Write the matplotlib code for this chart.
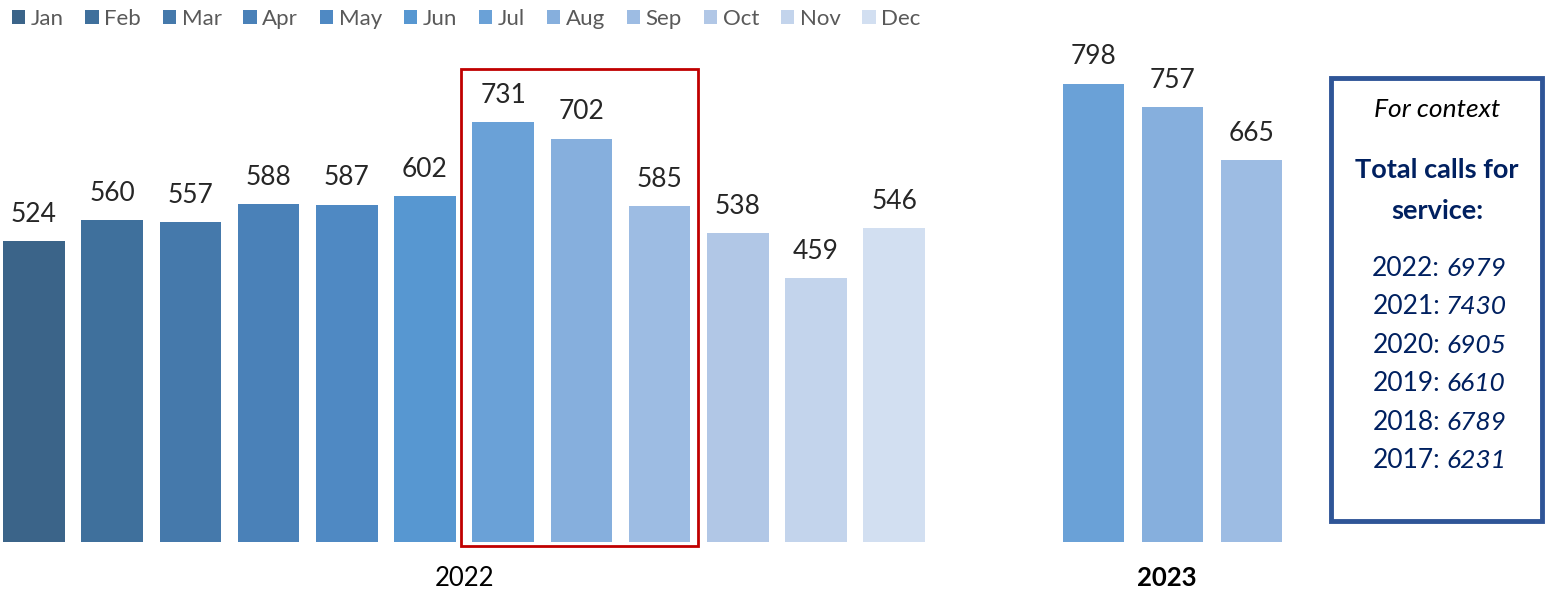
import matplotlib.pyplot as plt
from matplotlib.patches import Rectangle

plt.rcParams["font.family"] = ["Lato", "DejaVu Sans"]

months = ["Jan", "Feb", "Mar", "Apr", "May", "Jun",
          "Jul", "Aug", "Sep", "Oct", "Nov", "Dec"]
calls_2022 = [524, 560, 557, 588, 587, 602, 731, 702, 585, 538, 459, 546]
months_2023 = ["Jul", "Aug", "Sep"]
calls_2023 = [798, 757, 665]
totals_years = ["2022", "2021", "2020", "2019", "2018", "2017"]
totals_calls = [6979, 7430, 6905, 6610, 6789, 6231]

colors = ["#3b6489", "#3f709c", "#4579ab", "#4a81b8", "#4f89c3", "#5797d1",
          "#6aa1d7", "#86afdd", "#9dbce3", "#b1c7e6", "#c3d4ec", "#d2dff1"]
month_color = dict(zip(months, colors))

W, H = 1546, 599
fig = plt.figure(figsize=(W / 100, H / 100), dpi=100)
ax = fig.add_axes([0, 0, 1, 1])
ax.axis("off")

pitch = 78.2  # px per slot
ppu = 0.5744  # px per call
ax.set_xlim(-34 / pitch, (W - 34) / pitch)
ax.set_ylim(-57 / ppu, (H - 57) / ppu)

xs22 = list(range(12))
xs23 = [13.55, 14.56, 15.57]
bw = 0.79

bars = ax.bar(xs22, calls_2022, width=bw, color=colors)
for m, b in zip(months, bars):
    b.set_label(m)
ax.bar(xs23, calls_2023, width=bw, color=[month_color[m] for m in months_2023])

for x, v in zip(xs22 + xs23, calls_2022 + calls_2023):
    ax.text(x, v + 25, str(v), ha="center", va="bottom", fontsize=19, color="#262626")

# category labels
ax.text(5.5, -63, "2022", ha="center", va="center", fontsize=18.5, color="black")
ax.text(14.48, -63, "2023", ha="center", va="center", fontsize=18.5,
        fontweight="bold", color="black")

# red highlight around Jul-Sep 2022
ax.add_patch(Rectangle((5.46, -7), 3.03, 830, fill=False, edgecolor="#c00000",
                       linewidth=2, clip_on=False))

# legend
ax.legend(handles=list(bars), loc="upper left", bbox_to_anchor=(0.004, 0.995),
          ncol=12, frameon=False, handlelength=0.6, handleheight=0.6,
          handletextpad=0.25, columnspacing=0.98, fontsize=16,
          labelcolor="#595959", borderaxespad=0.15, borderpad=0.1)

# context box
fig.patches.append(Rectangle((1331 / W, 1 - 521 / H), (1542 - 1331) / W,
                             (521 - 78) / H, transform=fig.transFigure,
                             fill=False, edgecolor="#2f5597", linewidth=3.5))
cx = 1437 / W
navy = "#002060"
fig.text(cx, 1 - 110 / H, "For context", ha="center", va="center",
         fontsize=19, style="italic", color="black")
fig.text(cx, 1 - 170 / H, "Total calls for", ha="center", va="center",
         fontsize=19.5, fontweight="bold", color=navy)
fig.text(cx, 1 - 211 / H, "service:", ha="center", va="center",
         fontsize=19.5, fontweight="bold", color=navy)
for i, (yr, tot) in enumerate(zip(totals_years, totals_calls)):
    yy = 1 - (268 + i * 38.6) / H
    fig.text(1440 / W, yy, f"{yr}:", ha="right", va="center", fontsize=19, color=navy)
    fig.text(1446 / W, yy, str(tot), ha="left", va="center", fontsize=19,
             style="italic", color=navy)

fig.savefig("out.png", dpi=100)
